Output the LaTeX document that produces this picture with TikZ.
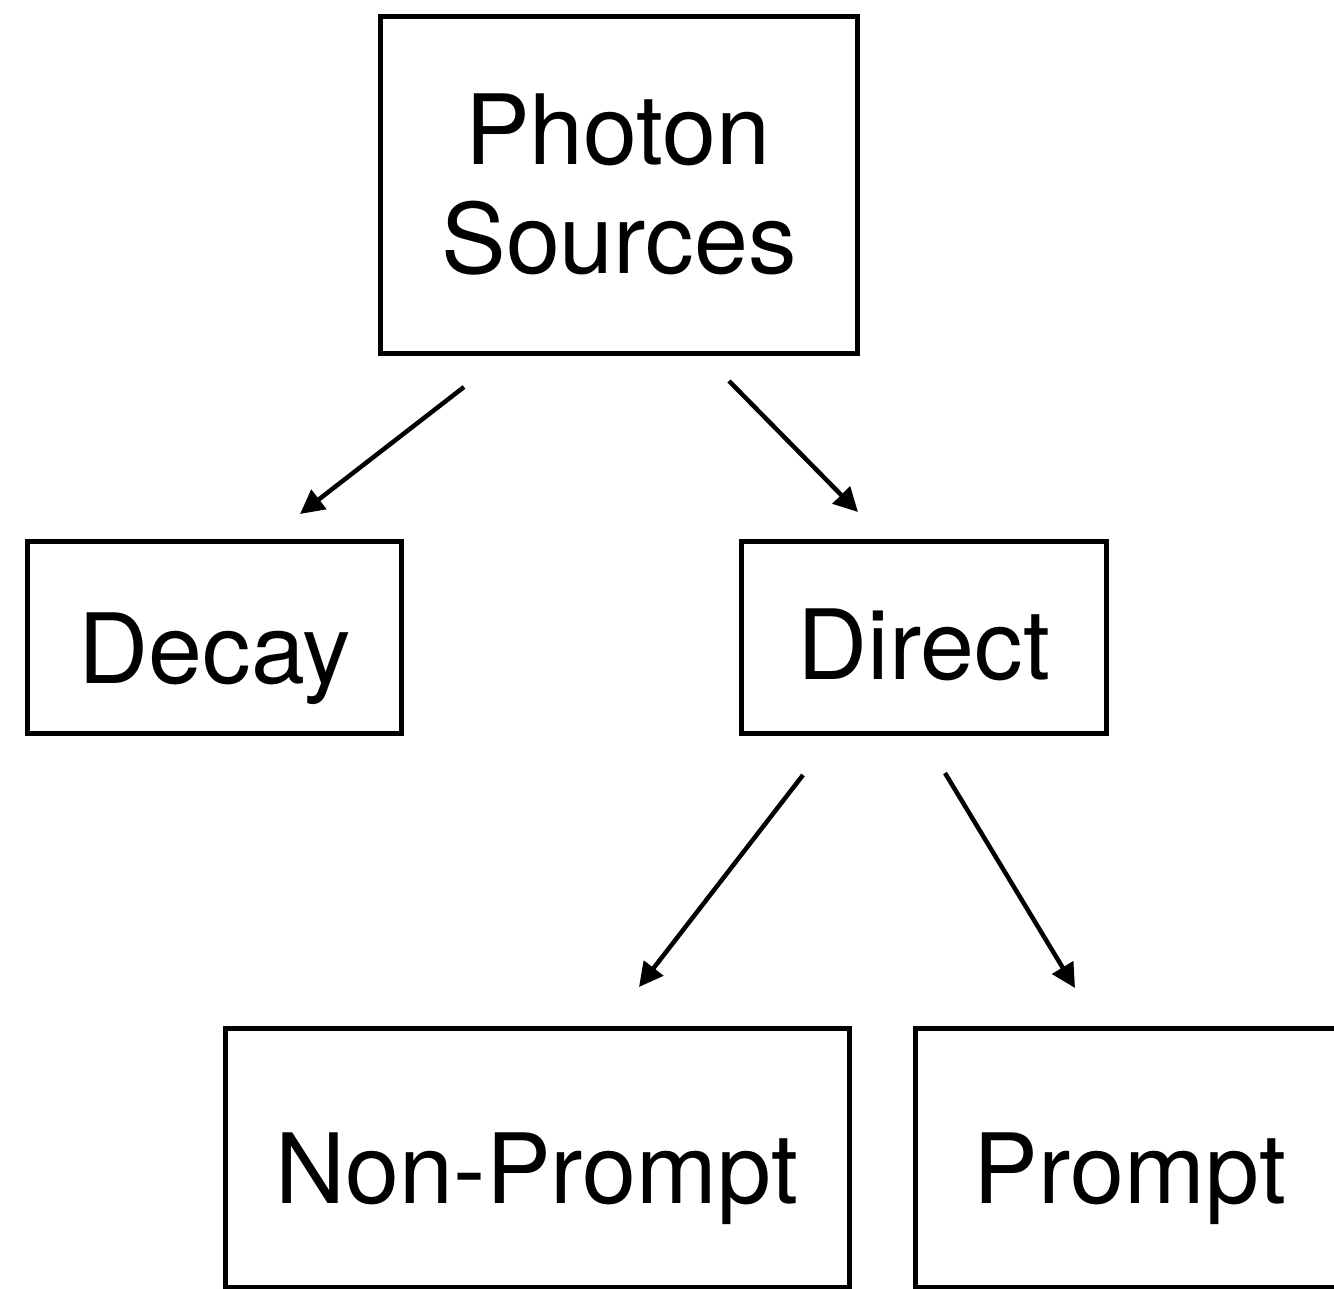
\documentclass[tikz,border=0pt]{standalone}
\usepackage{fontspec}
\setmainfont{TeX Gyre Heros}
\usetikzlibrary{arrows.meta}
\begin{document}
\begin{tikzpicture}[x=1pt,y=-1pt,
  box/.style={draw, line width=5pt, rectangle, inner sep=0pt},
  lbl/.style={font=\fontsize{97}{110}\selectfont, inner sep=0pt, anchor=base},
  arr/.style={line width=4.5pt, -{Triangle[length=24pt,width=24pt]}}]
\useasboundingbox (0,0) rectangle (1334,1289);
% boxes
\node[box, minimum width=477pt, minimum height=337pt] (src) at (618.5,185.5) {};
\node[box, minimum width=374pt, minimum height=192pt] (decay) at (214,637) {};
\node[box, minimum width=365pt, minimum height=192pt] (direct) at (923.5,637) {};
\node[box, minimum width=624pt, minimum height=259pt] (nonprompt) at (537,1157.5) {};
\node[box, minimum width=430pt, minimum height=259pt] (prompt) at (1130,1157.5) {};
% labels
\node[lbl] (tphoton) at (618,165) {Photon};
\node[lbl] (tsources) at (619,274) {Sources};
\node[lbl] (tdecay) at (215,683) {Decay};
\node[lbl] (tdirect) at (924,679) {Direct};
\node[lbl] (tnonprompt) at (537,1203) {Non-Prompt};
\node[lbl] (tprompt) at (1130,1203) {Prompt};
% arrow ends
\coordinate (a1s) at (464,387); \coordinate (a1e) at (300,514);
\coordinate (a2s) at (729,381); \coordinate (a2e) at (858,512);
\coordinate (a3s) at (803,775); \coordinate (a3e) at (639,987);
\coordinate (a4s) at (945,773); \coordinate (a4e) at (1075,988);
\draw[arr] (a1s) -- (a1e);
\draw[arr] (a2s) -- (a2e);
\draw[arr] (a3s) -- (a3e);
\draw[arr] (a4s) -- (a4e);
\end{tikzpicture}
\end{document}
